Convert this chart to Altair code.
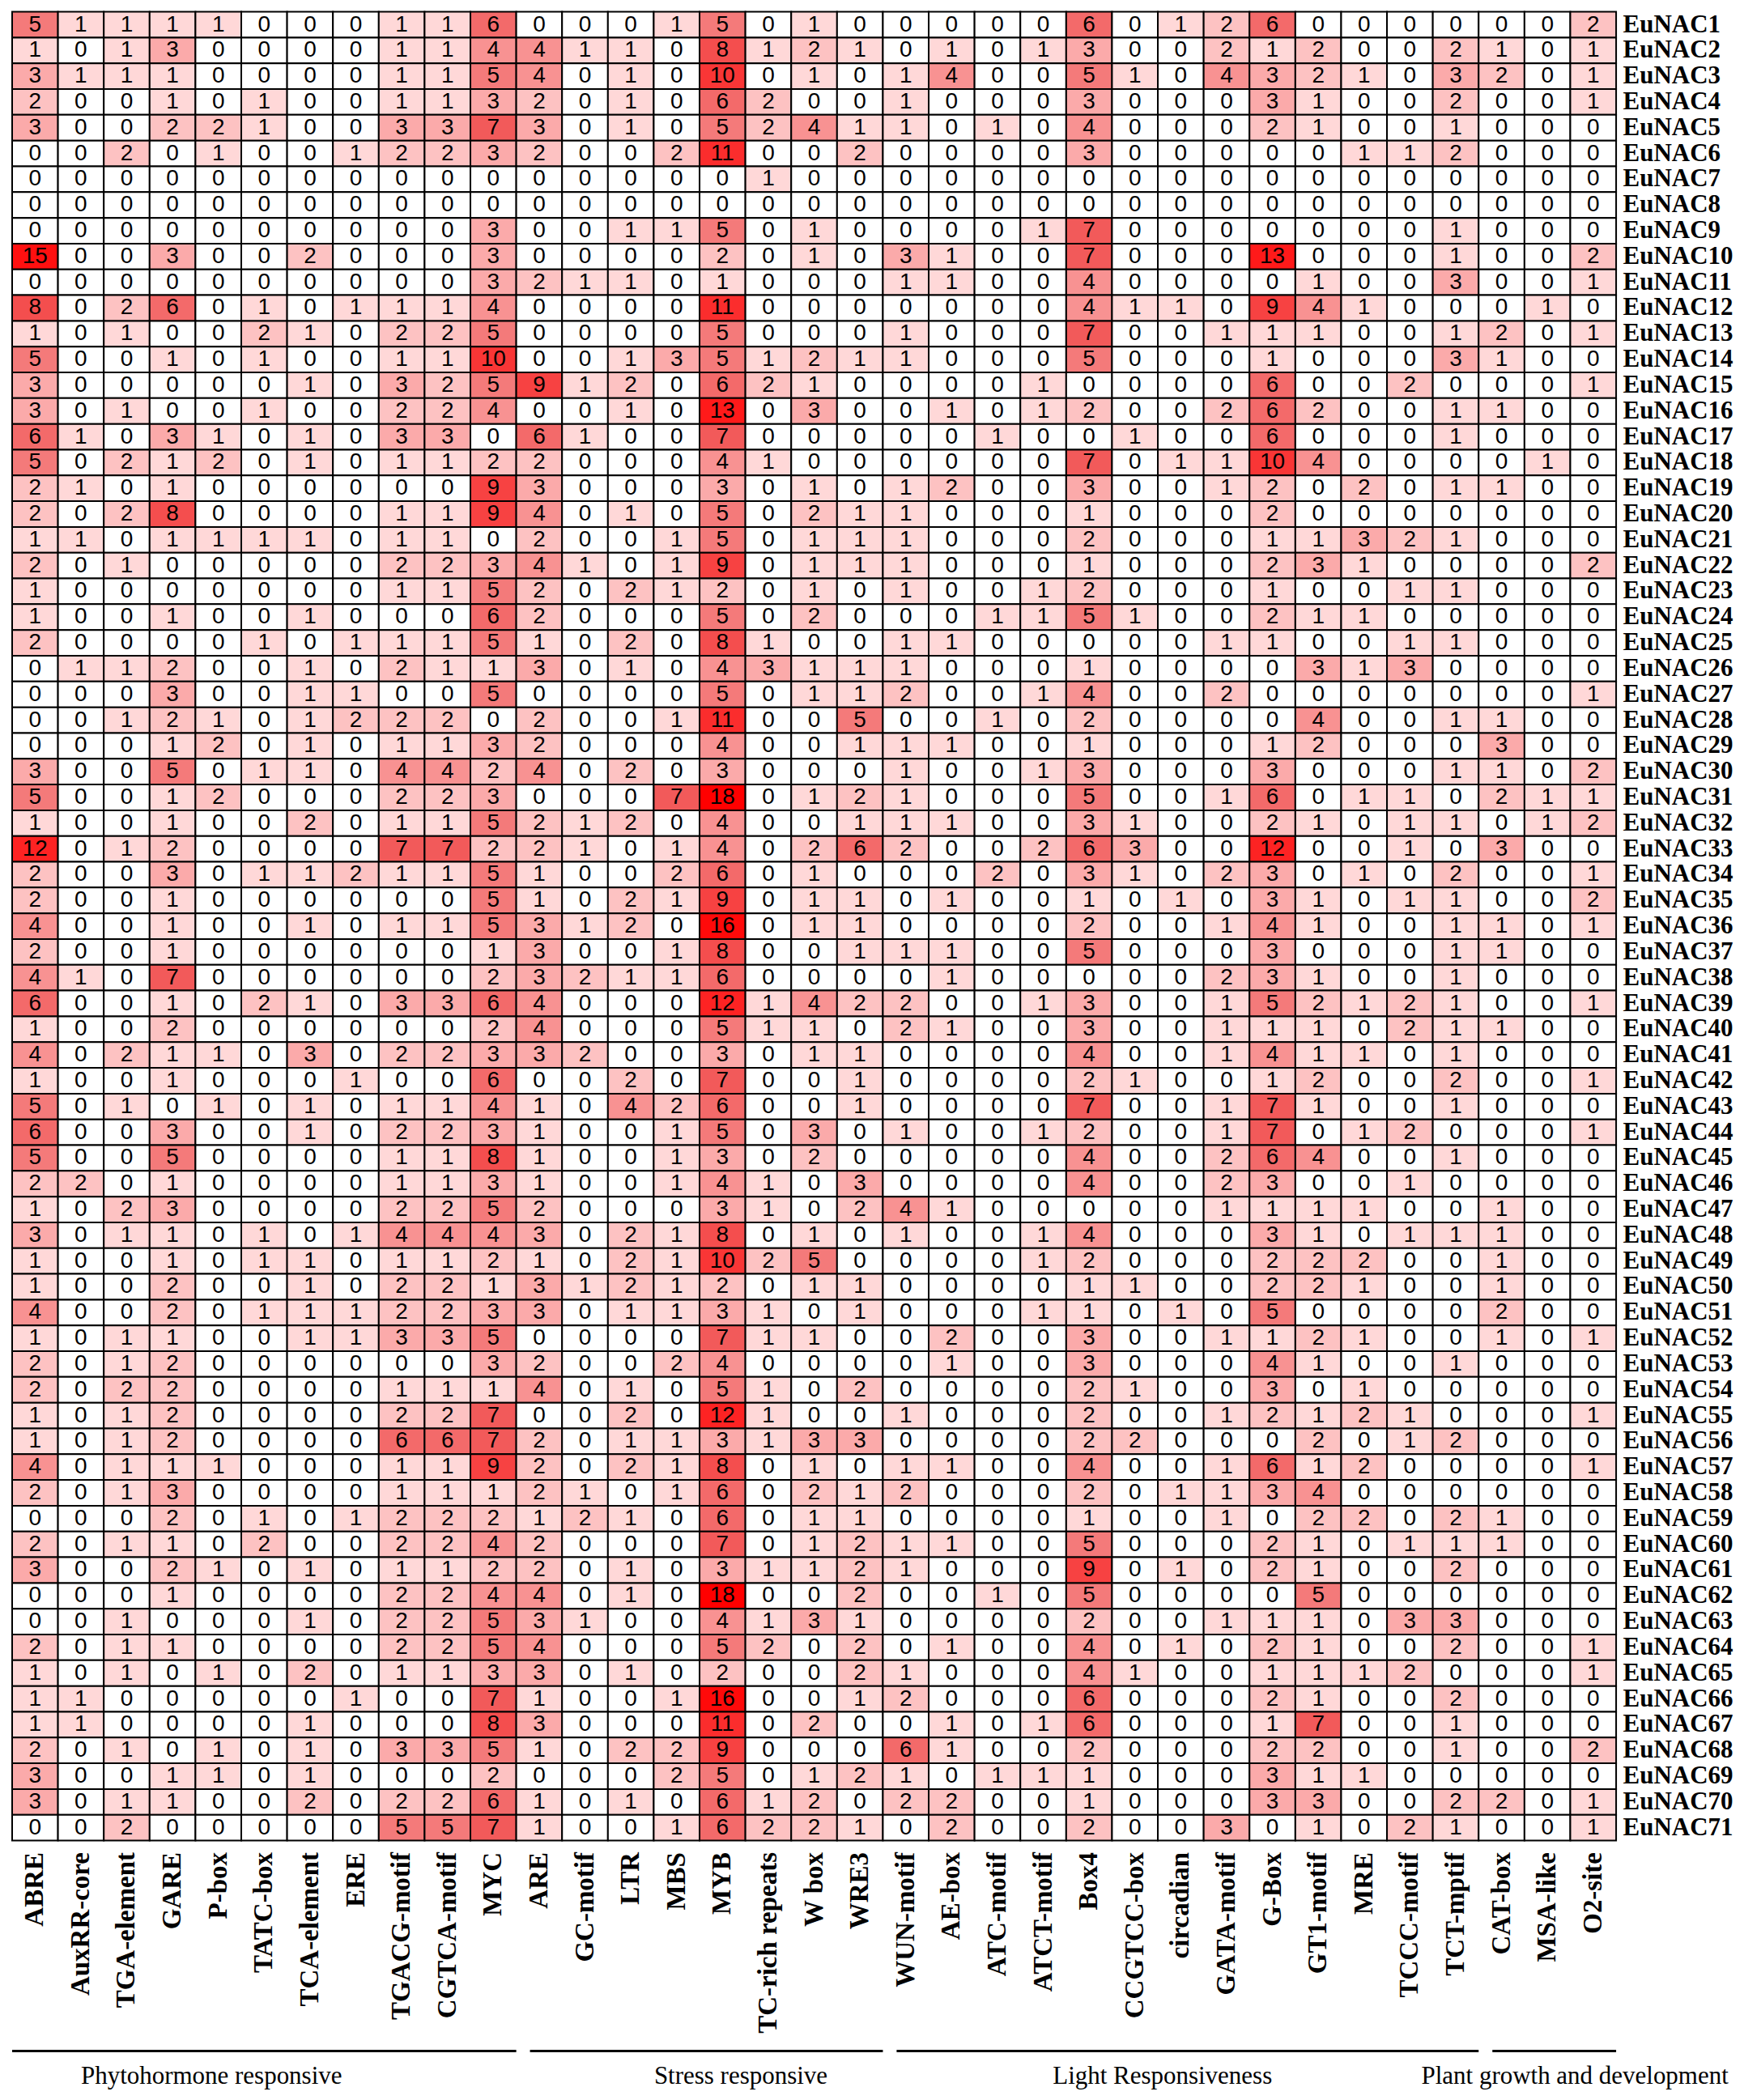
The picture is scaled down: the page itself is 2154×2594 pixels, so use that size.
import altair as alt
import pandas as pd

motifs = ["ABRE", "AuxRR-core", "TGA-element", "GARE", "P-box", "TATC-box", "TCA-element", "ERE",
          "TGACG-motif", "CGTCA-motif", "MYC", "ARE", "GC-motif", "LTR", "MBS", "MYB",
          "TC-rich repeats", "W box", "WRE3", "WUN-motif", "AE-box", "ATC-motif", "ATCT-motif",
          "Box4", "CCGTCC-box", "circadian", "GATA-motif", "G-Box", "GT1-motif", "MRE",
          "TCCC-motif", "TCT-mptif", "CAT-box", "MSA-like", "O2-site"]

genes = ["EuNAC%d" % i for i in range(1, 72)]

counts = [
    [5,1,1,1,1,0,0,0,1,1,6,0,0,0,1,5,0,1,0, 0,0,0,0,6,0,1,2,6,0,0,0,0,0,0,2],
    [1,0,1,3,0,0,0,0,1,1,4,4,1,1,0,8,1,2,1, 0,1,0,1,3,0,0,2,1,2,0,0,2,1,0,1],
    [3,1,1,1,0,0,0,0,1,1,5,4,0,1,0,10,0,1,0, 1,4,0,0,5,1,0,4,3,2,1,0,3,2,0,1],
    [2,0,0,1,0,1,0,0,1,1,3,2,0,1,0,6,2,0,0, 1,0,0,0,3,0,0,0,3,1,0,0,2,0,0,1],
    [3,0,0,2,2,1,0,0,3,3,7,3,0,1,0,5,2,4,1, 1,0,1,0,4,0,0,0,2,1,0,0,1,0,0,0],
    [0,0,2,0,1,0,0,1,2,2,3,2,0,0,2,11,0,0,2, 0,0,0,0,3,0,0,0,0,0,1,1,2,0,0,0],
    [0,0,0,0,0,0,0,0,0,0,0,0,0,0,0,0,1,0,0, 0,0,0,0,0,0,0,0,0,0,0,0,0,0,0,0],
    [0,0,0,0,0,0,0,0,0,0,0,0,0,0,0,0,0,0,0, 0,0,0,0,0,0,0,0,0,0,0,0,0,0,0,0],
    [0,0,0,0,0,0,0,0,0,0,3,0,0,1,1,5,0,1,0, 0,0,0,1,7,0,0,0,0,0,0,0,1,0,0,0],
    [15,0,0,3,0,0,2,0,0,0,3,0,0,0,0,2,0,1,0, 3,1,0,0,7,0,0,0,13,0,0,0,1,0,0,2],
    [0,0,0,0,0,0,0,0,0,0,3,2,1,1,0,1,0,0,0, 1,1,0,0,4,0,0,0,0,1,0,0,3,0,0,1],
    [8,0,2,6,0,1,0,1,1,1,4,0,0,0,0,11,0,0,0, 0,0,0,0,4,1,1,0,9,4,1,0,0,0,1,0],
    [1,0,1,0,0,2,1,0,2,2,5,0,0,0,0,5,0,0,0, 1,0,0,0,7,0,0,1,1,1,0,0,1,2,0,1],
    [5,0,0,1,0,1,0,0,1,1,10,0,0,1,3,5,1,2,1, 1,0,0,0,5,0,0,0,1,0,0,0,3,1,0,0],
    [3,0,0,0,0,0,1,0,3,2,5,9,1,2,0,6,2,1,0, 0,0,0,1,0,0,0,0,6,0,0,2,0,0,0,1],
    [3,0,1,0,0,1,0,0,2,2,4,0,0,1,0,13,0,3,0, 0,1,0,1,2,0,0,2,6,2,0,0,1,1,0,0],
    [6,1,0,3,1,0,1,0,3,3,0,6,1,0,0,7,0,0,0, 0,0,1,0,0,1,0,0,6,0,0,0,1,0,0,0],
    [5,0,2,1,2,0,1,0,1,1,2,2,0,0,0,4,1,0,0, 0,0,0,0,7,0,1,1,10,4,0,0,0,0,1,0],
    [2,1,0,1,0,0,0,0,0,0,9,3,0,0,0,3,0,1,0, 1,2,0,0,3,0,0,1,2,0,2,0,1,1,0,0],
    [2,0,2,8,0,0,0,0,1,1,9,4,0,1,0,5,0,2,1, 1,0,0,0,1,0,0,0,2,0,0,0,0,0,0,0],
    [1,1,0,1,1,1,1,0,1,1,0,2,0,0,1,5,0,1,1, 1,0,0,0,2,0,0,0,1,1,3,2,1,0,0,0],
    [2,0,1,0,0,0,0,0,2,2,3,4,1,0,1,9,0,1,1, 1,0,0,0,1,0,0,0,2,3,1,0,0,0,0,2],
    [1,0,0,0,0,0,0,0,1,1,5,2,0,2,1,2,0,1,0, 1,0,0,1,2,0,0,0,1,0,0,1,1,0,0,0],
    [1,0,0,1,0,0,1,0,0,0,6,2,0,0,0,5,0,2,0, 0,0,1,1,5,1,0,0,2,1,1,0,0,0,0,0],
    [2,0,0,0,0,1,0,1,1,1,5,1,0,2,0,8,1,0,0, 1,1,0,0,0,0,0,1,1,0,0,1,1,0,0,0],
    [0,1,1,2,0,0,1,0,2,1,1,3,0,1,0,4,3,1,1, 1,0,0,0,1,0,0,0,0,3,1,3,0,0,0,0],
    [0,0,0,3,0,0,1,1,0,0,5,0,0,0,0,5,0,1,1, 2,0,0,1,4,0,0,2,0,0,0,0,0,0,0,1],
    [0,0,1,2,1,0,1,2,2,2,0,2,0,0,1,11,0,0,5, 0,0,1,0,2,0,0,0,0,4,0,0,1,1,0,0],
    [0,0,0,1,2,0,1,0,1,1,3,2,0,0,0,4,0,0,1, 1,1,0,0,1,0,0,0,1,2,0,0,0,3,0,0],
    [3,0,0,5,0,1,1,0,4,4,2,4,0,2,0,3,0,0,0, 1,0,0,1,3,0,0,0,3,0,0,0,1,1,0,2],
    [5,0,0,1,2,0,0,0,2,2,3,0,0,0,7,18,0,1,2, 1,0,0,0,5,0,0,1,6,0,1,1,0,2,1,1],
    [1,0,0,1,0,0,2,0,1,1,5,2,1,2,0,4,0,0,1, 1,1,0,0,3,1,0,0,2,1,0,1,1,0,1,2],
    [12,0,1,2,0,0,0,0,7,7,2,2,1,0,1,4,0,2,6, 2,0,0,2,6,3,0,0,12,0,0,1,0,3,0,0],
    [2,0,0,3,0,1,1,2,1,1,5,1,0,0,2,6,0,1,0, 0,0,2,0,3,1,0,2,3,0,1,0,2,0,0,1],
    [2,0,0,1,0,0,0,0,0,0,5,1,0,2,1,9,0,1,1, 0,1,0,0,1,0,1,0,3,1,0,1,1,0,0,2],
    [4,0,0,1,0,0,1,0,1,1,5,3,1,2,0,16,0,1,1, 0,0,0,0,2,0,0,1,4,1,0,0,1,1,0,1],
    [2,0,0,1,0,0,0,0,0,0,1,3,0,0,1,8,0,0,1, 1,1,0,0,5,0,0,0,3,0,0,0,1,1,0,0],
    [4,1,0,7,0,0,0,0,0,0,2,3,2,1,1,6,0,0,0, 0,1,0,0,0,0,0,2,3,1,0,0,1,0,0,0],
    [6,0,0,1,0,2,1,0,3,3,6,4,0,0,0,12,1,4,2, 2,0,0,1,3,0,0,1,5,2,1,2,1,0,0,1],
    [1,0,0,2,0,0,0,0,0,0,2,4,0,0,0,5,1,1,0, 2,1,0,0,3,0,0,1,1,1,0,2,1,1,0,0],
    [4,0,2,1,1,0,3,0,2,2,3,3,2,0,0,3,0,1,1, 0,0,0,0,4,0,0,1,4,1,1,0,1,0,0,0],
    [1,0,0,1,0,0,0,1,0,0,6,0,0,2,0,7,0,0,1, 0,0,0,0,2,1,0,0,1,2,0,0,2,0,0,1],
    [5,0,1,0,1,0,1,0,1,1,4,1,0,4,2,6,0,0,1, 0,0,0,0,7,0,0,1,7,1,0,0,1,0,0,0],
    [6,0,0,3,0,0,1,0,2,2,3,1,0,0,1,5,0,3,0, 1,0,0,1,2,0,0,1,7,0,1,2,0,0,0,1],
    [5,0,0,5,0,0,0,0,1,1,8,1,0,0,1,3,0,2,0, 0,0,0,0,4,0,0,2,6,4,0,0,1,0,0,0],
    [2,2,0,1,0,0,0,0,1,1,3,1,0,0,1,4,1,0,3, 0,0,0,0,4,0,0,2,3,0,0,1,0,0,0,0],
    [1,0,2,3,0,0,0,0,2,2,5,2,0,0,0,3,1,0,2, 4,1,0,0,0,0,0,1,1,1,1,0,0,1,0,0],
    [3,0,1,1,0,1,0,1,4,4,4,3,0,2,1,8,0,1,0, 1,0,0,1,4,0,0,0,3,1,0,1,1,1,0,0],
    [1,0,0,1,0,1,1,0,1,1,2,1,0,2,1,10,2,5,0, 0,0,0,1,2,0,0,0,2,2,2,0,0,1,0,0],
    [1,0,0,2,0,0,1,0,2,2,1,3,1,2,1,2,0,1,1, 0,0,0,0,1,1,0,0,2,2,1,0,0,1,0,0],
    [4,0,0,2,0,1,1,1,2,2,3,3,0,1,1,3,1,0,1, 0,0,0,1,1,0,1,0,5,0,0,0,0,2,0,0],
    [1,0,1,1,0,0,1,1,3,3,5,0,0,0,0,7,1,1,0, 0,2,0,0,3,0,0,1,1,2,1,0,0,1,0,1],
    [2,0,1,2,0,0,0,0,0,0,3,2,0,0,2,4,0,0,0, 0,1,0,0,3,0,0,0,4,1,0,0,1,0,0,0],
    [2,0,2,2,0,0,0,0,1,1,1,4,0,1,0,5,1,0,2, 0,0,0,0,2,1,0,0,3,0,1,0,0,0,0,0],
    [1,0,1,2,0,0,0,0,2,2,7,0,0,2,0,12,1,0,0, 1,0,0,0,2,0,0,1,2,1,2,1,0,0,0,1],
    [1,0,1,2,0,0,0,0,6,6,7,2,0,1,1,3,1,3,3, 0,0,0,0,2,2,0,0,0,2,0,1,2,0,0,0],
    [4,0,1,1,1,0,0,0,1,1,9,2,0,2,1,8,0,1,0, 1,1,0,0,4,0,0,1,6,1,2,0,0,0,0,1],
    [2,0,1,3,0,0,0,0,1,1,1,2,1,0,1,6,0,2,1, 2,0,0,0,2,0,1,1,3,4,0,0,0,0,0,0],
    [0,0,0,2,0,1,0,1,2,2,2,1,2,1,0,6,0,1,1, 0,0,0,0,1,0,0,1,0,2,2,0,2,1,0,0],
    [2,0,1,1,0,2,0,0,2,2,4,2,0,0,0,7,0,1,2, 1,1,0,0,5,0,0,0,2,1,0,1,1,1,0,0],
    [3,0,0,2,1,0,1,0,1,1,2,2,0,1,0,3,1,1,2, 1,0,0,0,9,0,1,0,2,1,0,0,2,0,0,0],
    [0,0,0,1,0,0,0,0,2,2,4,4,0,1,0,18,0,0,2, 0,0,1,0,5,0,0,0,0,5,0,0,0,0,0,0],
    [0,0,1,0,0,0,1,0,2,2,5,3,1,0,0,4,1,3,1, 0,0,0,0,2,0,0,1,1,1,0,3,3,0,0,0],
    [2,0,1,1,0,0,0,0,2,2,5,4,0,0,0,5,2,0,2, 0,1,0,0,4,0,1,0,2,1,0,0,2,0,0,1],
    [1,0,1,0,1,0,2,0,1,1,3,3,0,1,0,2,0,0,2, 1,0,0,0,4,1,0,0,1,1,1,2,0,0,0,1],
    [1,1,0,0,0,0,0,1,0,0,7,1,0,0,1,16,0,0,1, 2,0,0,0,6,0,0,0,2,1,0,0,2,0,0,0],
    [1,1,0,0,0,0,1,0,0,0,8,3,0,0,0,11,0,2,0, 0,1,0,1,6,0,0,0,1,7,0,0,1,0,0,0],
    [2,0,1,0,1,0,1,0,3,3,5,1,0,2,2,9,0,0,0, 6,1,0,0,2,0,0,0,2,2,0,0,1,0,0,2],
    [3,0,0,1,1,0,1,0,0,0,2,0,0,0,2,5,0,1,2, 1,0,1,1,1,0,0,0,3,1,1,0,0,0,0,0],
    [3,0,1,1,0,0,2,0,2,2,6,1,0,1,0,6,1,2,0, 2,2,0,0,1,0,0,0,3,3,0,0,2,2,0,1],
    [0,0,2,0,0,0,0,0,5,5,7,1,0,0,1,6,2,2,1, 0,2,0,0,2,0,0,3,0,1,0,2,1,0,0,1],
]

group_names = ["Phytohormone responsive", "Stress responsive",
               "Light Responsiveness", "Plant growth and development"]
group_sizes = [11, 8, 13, 3]
group_label_pos = [4.35, 15.9, 25.1, 34.1]

color_stops = [0, 1, 2, 3, 5, 7, 10, 13, 18]
color_range = ["#FFFFFF", "#FFD8D8", "#FDC2C2", "#FBAAAA", "#F47A7A",
               "#F25A5A", "#F93636", "#FF1A1A", "#FF0000"]

rows = []
for g, vals in zip(genes, counts):
    for m, v in zip(motifs, vals):
        rows.append({"gene": g, "motif": m, "count": v})
df = pd.DataFrame(rows)

gstart, gend = [], []
acc = 0
for s in group_sizes:
    gstart.append(acc + (0.3 if acc > 0 else 0.0))
    gend.append(acc + s)
    acc += s
gdf = pd.DataFrame({"name": group_names, "start": gstart, "end": gend, "mid": group_label_pos})

W = 1982
H = 2260

xenc = alt.X("motif:N", sort=motifs, title=None,
             axis=alt.Axis(orient="bottom", labelAngle=270, labelFont="Liberation Serif",
                           labelFontWeight="bold", labelFontSize=33, labelColor="black",
                           labelLimit=0, ticks=False, domain=False, labelPadding=14))
yenc = alt.Y("gene:N", sort=genes, title=None,
             axis=alt.Axis(orient="right", labelFont="Liberation Serif", labelFontWeight="bold",
                           labelFontSize=31, labelColor="black", ticks=False, domain=False,
                           labelPadding=8))

base = alt.Chart(df)
cells = base.mark_rect(stroke="black", strokeWidth=2).encode(
    x=xenc, y=yenc,
    color=alt.Color("count:Q", legend=None,
                    scale=alt.Scale(type="linear", domain=color_stops,
                                    range=color_range, interpolate="rgb")),
)
labels = base.mark_text(font="Liberation Sans", fontSize=28, color="black", baseline="middle").encode(
    x=alt.X("motif:N", sort=motifs), y=alt.Y("gene:N", sort=genes), text="count:Q"
)
heat = alt.layer(cells, labels)

gx = alt.Scale(domain=[0, 35])
glines = alt.Chart(gdf).mark_rule(color="black", strokeWidth=3).encode(
    x=alt.X("start:Q", scale=gx, axis=None), x2="end:Q", y=alt.value(H + 260)
)
gtext = alt.Chart(gdf).mark_text(font="Liberation Serif", fontSize=31, color="black",
                                 baseline="middle").encode(
    x=alt.X("mid:Q", scale=gx, axis=None), y=alt.value(H + 292), text="name:N"
)

chart = alt.layer(heat, glines, gtext).resolve_scale(x="independent").properties(
    width=W, height=H
).configure_view(stroke=None)

chart.save("out.html", embed_options={"renderer": "svg", "actions": False})
